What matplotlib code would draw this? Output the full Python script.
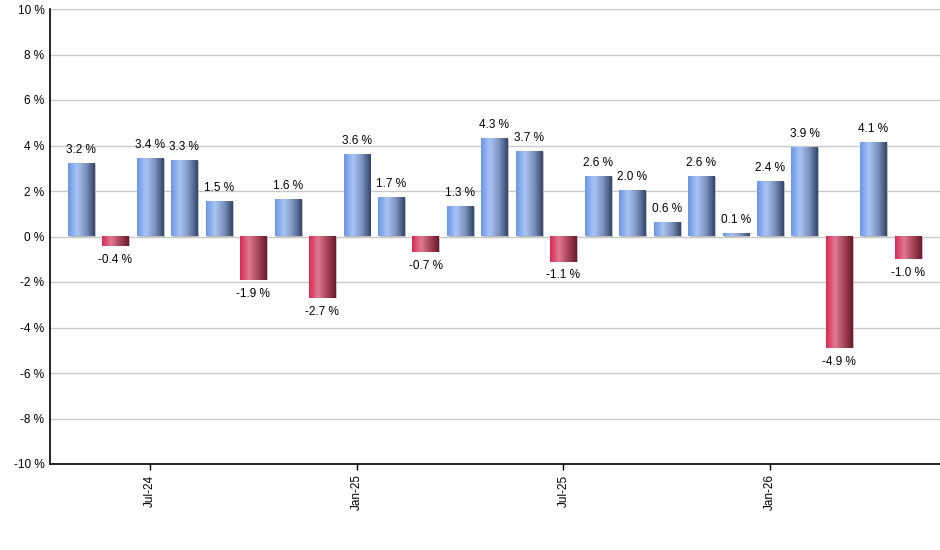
import matplotlib
matplotlib.use('Agg')
import matplotlib.pyplot as plt
import numpy as np
from matplotlib.colors import LinearSegmentedColormap

plt.rcParams['font.family'] = ['Liberation Sans', 'DejaVu Sans']

months = ['May-24', 'Jun-24', 'Jul-24', 'Aug-24', 'Sep-24', 'Oct-24', 'Nov-24', 'Dec-24',
          'Jan-25', 'Feb-25', 'Mar-25', 'Apr-25', 'May-25', 'Jun-25', 'Jul-25', 'Aug-25',
          'Sep-25', 'Oct-25', 'Nov-25', 'Dec-25', 'Jan-26', 'Feb-26', 'Mar-26', 'Apr-26', 'May-26']
returns = [3.2, -0.4, 3.4, 3.3, 1.5, -1.9, 1.6, -2.7,
           3.6, 1.7, -0.7, 1.3, 4.3, 3.7, -1.1, 2.6,
           2.0, 0.6, 2.6, 0.1, 2.4, 3.9, -4.9, 4.1, -1.0]
shown_ticks = ['Jul-24', 'Jan-25', 'Jul-25', 'Jan-26']

blue_cm = LinearSegmentedColormap.from_list('b', ['#6b97e6', '#a9c4f5', '#7d93bd', '#33466c'])
red_cm = LinearSegmentedColormap.from_list('r', ['#d92a52', '#e07a92', '#a84658', '#6a1a2c'])
grad = np.linspace(0, 1, 64).reshape(1, -1)

fig = plt.figure(figsize=(9.4, 5.5), dpi=100)
ax = fig.add_axes([50 / 940, 1 - 464 / 550, 890 / 940, 455 / 550])

x = np.arange(len(returns))
w = 0.76
for xi, v in zip(x, returns):
    cm = blue_cm if v >= 0 else red_cm
    lo, hi = min(0, v), max(0, v)
    # small shadow on the right
    ax.add_patch(plt.Rectangle((xi - w / 2 + 0.05, lo), w, hi - lo,
                               color='#9a9a9a', alpha=0.6, zorder=2, lw=0))
    ax.imshow(grad, cmap=cm, extent=(xi - w / 2, xi + w / 2, lo, hi),
              aspect='auto', zorder=3, interpolation='bilinear')
    if v >= 0:
        ax.text(xi, v + 0.35, f'{v:.1f} %', ha='center', va='bottom', fontsize=8.5, zorder=4)
    else:
        ax.text(xi, v - 0.35, f'{v:.1f} %', ha='center', va='top', fontsize=8.5, zorder=4)

ax.set_xlim(-0.9, 24.93)
ax.set_ylim(-10, 10)
ax.set_yticks(np.arange(-10, 11, 2))
ax.set_yticklabels([f'{t} %' for t in range(-10, 11, 2)], fontsize=8.5)
ax.yaxis.grid(True, color='#c8c8c8', lw=1)
ax.set_axisbelow(True)
ax.tick_params(axis='y', length=0, pad=4)

ax.set_xticks([months.index(m) for m in shown_ticks])
ax.set_xticklabels(shown_ticks, rotation=90, fontsize=8.5)
ax.tick_params(axis='x', length=4, width=1, color='black')

for s in ['top', 'right']:
    ax.spines[s].set_visible(False)
for s in ['left', 'bottom']:
    ax.spines[s].set_color('black')
    ax.spines[s].set_linewidth(1.2)

fig.savefig('out.png', dpi=100)
